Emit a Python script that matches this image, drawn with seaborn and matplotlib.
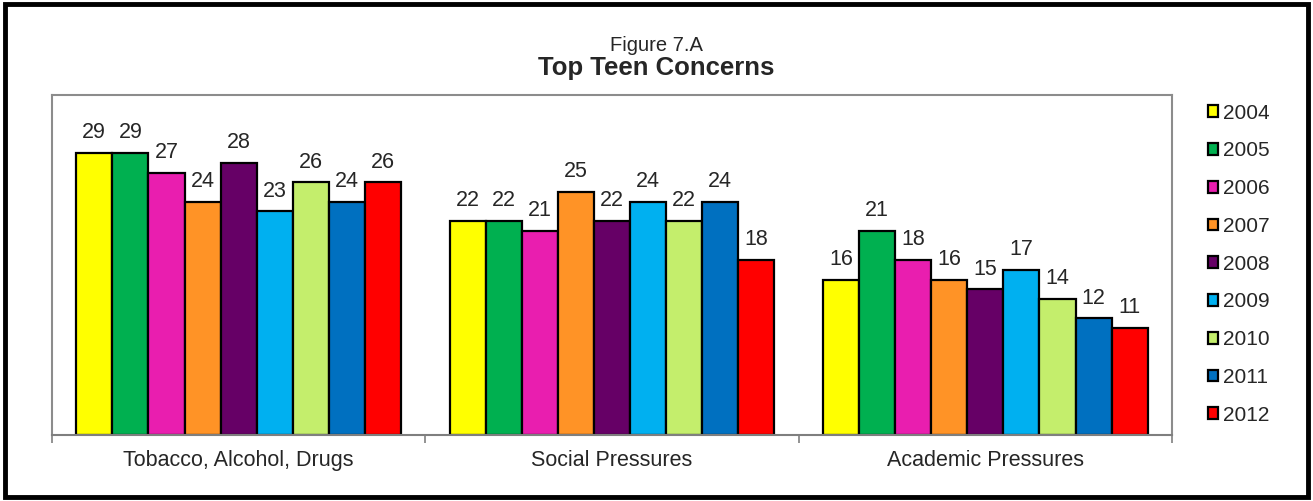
import pandas as pd
import matplotlib.pyplot as plt
import matplotlib.patches as mpatches
import seaborn as sns

categories = ["Tobacco, Alcohol, Drugs", "Social Pressures", "Academic Pressures"]
years = ["2004", "2005", "2006", "2007", "2008", "2009", "2010", "2011", "2012"]
tobacco = [29, 29, 27, 24, 28, 23, 26, 24, 26]
social = [22, 22, 21, 25, 22, 24, 22, 24, 18]
academic = [16, 21, 18, 16, 15, 17, 14, 12, 11]
colors = ["#FFFF00", "#00B050", "#E91EAF", "#FF9326", "#660066",
          "#00B0F0", "#C4EE6C", "#0070C0", "#FF0000"]

rows = []
for cat, vals in zip(categories, [tobacco, social, academic]):
    for yr, v in zip(years, vals):
        rows.append({"concern": cat, "year": yr, "value": v})
df = pd.DataFrame(rows)

sns.set_style("white")
plt.rcParams['font.family'] = ['Liberation Sans', 'DejaVu Sans']

fig = plt.figure(figsize=(13.13, 5.01), dpi=100)
ax = fig.add_axes([0.0396, 0.1317, 0.853, 0.679])

sns.barplot(data=df, x="concern", y="value", hue="year", palette=colors,
            width=0.87, gap=0, edgecolor="black", linewidth=1.6,
            saturation=1, errorbar=None, ax=ax)

for c in ax.containers:
    ax.bar_label(c, padding=7, fontsize=15.5)

ax.set_ylim(0, 35)
ax.set_xlim(-0.5, 2.5)
ax.set_yticks([])
ax.set_xlabel("")
ax.set_ylabel("")
ax.tick_params(axis="x", which="major", bottom=False, length=0, labelsize=15.5, pad=11)
ax.set_xticks([-0.5, 0.5, 1.5, 2.5], minor=True)
ax.tick_params(axis="x", which="minor", bottom=True, length=6, width=1.2,
               color="#808080", direction="out")
for s in ax.spines.values():
    s.set_color("#8c8c8c")
    s.set_linewidth(1.5)
ax.spines["bottom"].set_color("#7f7f7f")

handles, labels = ax.get_legend_handles_labels()
ax.legend(handles, labels, loc="upper left", bbox_to_anchor=(0.912, 0.814),
          bbox_transform=fig.transFigure, frameon=False, fontsize=15,
          handlelength=0.5, handleheight=0.5, handletextpad=0.25,
          labelspacing=0.9, borderpad=0)

fig.text(0.5, 0.898, "Figure 7.A", ha="center", va="baseline", fontsize=14.5)
fig.text(0.5, 0.850, "Top Teen Concerns", ha="center", va="baseline",
         fontsize=18.5, fontweight="bold")

fig.patches.append(mpatches.Rectangle((0.004, 0.008), 0.992, 0.984, transform=fig.transFigure,
                                      fill=False, edgecolor="black", linewidth=3.5))

fig.savefig("out.png", dpi=100)
